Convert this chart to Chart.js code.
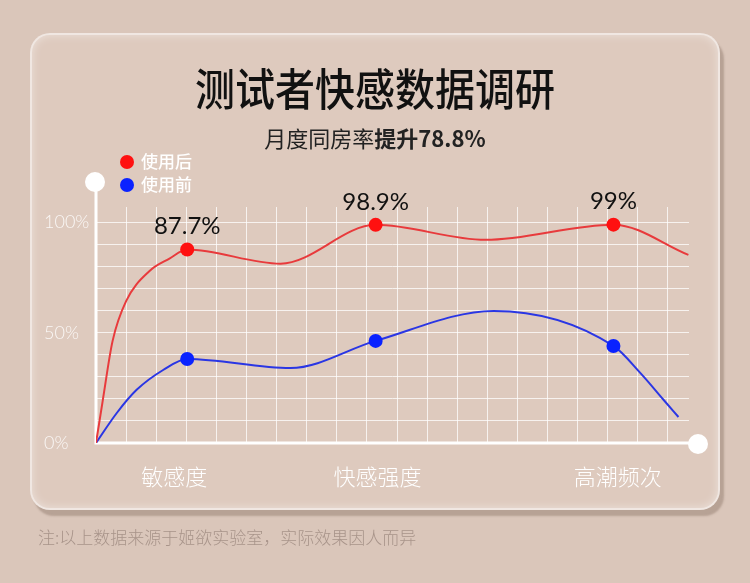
<!DOCTYPE html>
<html lang="zh">
<head>
<meta charset="utf-8">
<title>测试者快感数据调研</title>
<script src="https://cdn.jsdelivr.net/npm/chart.js@4.4.1/dist/chart.umd.min.js"></script>
<style>
  html, body { margin: 0; padding: 0; }
  body {
    width: 750px; height: 583px; overflow: hidden; position: relative;
    background: #dac6ba;
    font-family: 'Noto Sans CJK SC', 'Noto Sans', sans-serif;
  }
  .card {
    position: absolute; left: 30px; top: 33px; width: 690px; height: 477px;
    box-sizing: border-box; border-radius: 20px;
    background: #decabe;
    border: 2px solid rgba(255, 255, 255, 0.55);
    box-shadow: inset 0 0 10px rgba(255, 255, 255, 0.45), 4px 6px 2px rgba(140, 118, 105, 0.45);
  }
  #chart { position: absolute; left: 0; top: 0; }
  .title {
    position: absolute; left: 0; width: 750px; top: 67px; height: 40px;
    text-align: center; font-size: 40px; line-height: 40px; font-weight: 500;
    color: #111; transform: scaleY(1.12);
  }
  .subtitle {
    position: absolute; left: 0; width: 750px; top: 126px; height: 22px;
    text-align: center; font-size: 22px; line-height: 22px; color: #222;
  }
  .subtitle b { font-weight: 700; }
  .legend { position: absolute; left: 120px; top: 151px; }
  .legend div { height: 23px; line-height: 20px; font-size: 17px; color: #fff; font-weight: 500; }
  .legend span {
    display: inline-block; width: 14px; height: 14px; border-radius: 50%;
    margin-right: 7px; vertical-align: -1px;
  }
  .note {
    position: absolute; left: 38px; top: 527px; font-size: 17px; line-height: 20px;
    color: #a8948a; font-weight: 300;
  }
</style>
</head>
<body>
<div class="card"></div>
<canvas id="chart" width="750" height="583"></canvas>
<div class="title">测试者快感数据调研</div>
<div class="subtitle">月度同房率<b>提升78.8%</b></div>
<div class="legend" id="legend"></div>
<div class="note">注:以上数据来源于姬欲实验室，实际效果因人而异</div>

<script>
// categories and where they sit along the horizontal axis (grid units)
const categories = ['敏感度', '快感强度', '高潮频次'];
const categoryX = [3.03, 9.29, 17.19];
const categoryLabelX = [2.6, 9.35, 17.33];

// 使用后 (after) curve, dots at the categories
const afterX = [0, 0.22, 0.55, 1.0, 1.77, 2.44, 3.03, 6.13, 9.29, 12.94, 17.19, 19.68];
const afterY = [0, 18.9, 46.2, 64.3, 77.9, 83.6, 87.7, 81.3, 98.9, 92.1, 99, 85.3];

// 使用前 (before) curve
const beforeX = [0, 0.69, 1.35, 2.23, 3.03, 6.46, 9.29, 13.21, 17.19, 18.08, 18.86, 19.35];
const beforeY = [0, 13.6, 24.1, 33.1, 38.1, 34.0, 46.3, 59.9, 44.0, 31.8, 19.5, 11.8];

const seriesNames = ['使用后', '使用前'];
const yTicks = [0, 10, 20, 30, 40, 50, 60, 70, 80, 90, 100];
const xMax = 19.7;
const yMax = 107;

const gridColor = 'rgba(255, 255, 255, 0.75)';
const dotColors = ['#ff1010', '#0a22ff'];
const lineColors = ['#e83a3c', '#2a36e4'];

const toPoints = (xs, ys) => xs.map((x, i) => ({ x: x, y: ys[i] }));
const dotRadius = ctx => (ctx.raw && categoryX.includes(ctx.raw.x)) ? 7 : 0;

// white axis lines with the round caps at their ends
const axisLines = {
  id: 'axisLines',
  beforeDatasetsDraw(chart) {
    const { ctx, chartArea: a } = chart;
    ctx.save();
    ctx.strokeStyle = '#fff';
    ctx.fillStyle = '#fff';
    ctx.lineWidth = 3;
    ctx.beginPath();
    ctx.moveTo(a.left, a.top - 25);
    ctx.lineTo(a.left, a.bottom);
    ctx.lineTo(a.right + 9, a.bottom);
    ctx.stroke();
    ctx.beginPath();
    ctx.arc(a.left - 1, a.top - 25, 10, 0, Math.PI * 2);
    ctx.fill();
    ctx.beginPath();
    ctx.arc(a.right + 9, a.bottom + 1, 10, 0, Math.PI * 2);
    ctx.fill();
    ctx.restore();
  }
};

// percentage labels above the 使用后 dots
const valueLabels = {
  id: 'valueLabels',
  afterDatasetsDraw(chart) {
    const { ctx } = chart;
    const meta = chart.getDatasetMeta(0);
    ctx.save();
    ctx.font = '400 24px Lato, "Noto Sans", sans-serif';
    ctx.fillStyle = '#111';
    ctx.textAlign = 'center';
    ctx.textBaseline = 'middle';
    meta.data.forEach((p, i) => {
      if (!categoryX.includes(afterX[i])) return;
      ctx.fillText(afterY[i] + '%', p.x, p.y - 23);
    });
    ctx.restore();
  }
};

const chart = new Chart(document.getElementById('chart'), {
  type: 'line',
  data: {
    datasets: [{
      label: seriesNames[0],
      data: toPoints(afterX, afterY),
      borderColor: lineColors[0],
      borderWidth: 2,
      pointBackgroundColor: dotColors[0],
      pointBorderWidth: 0,
      pointRadius: dotRadius,
      cubicInterpolationMode: 'monotone',
      fill: false
    }, {
      label: seriesNames[1],
      data: toPoints(beforeX, beforeY),
      borderColor: lineColors[1],
      borderWidth: 2,
      pointBackgroundColor: dotColors[1],
      pointBorderWidth: 0,
      pointRadius: dotRadius,
      cubicInterpolationMode: 'monotone',
      fill: false
    }]
  },
  options: {
    responsive: false,
    animation: false,
    events: [],
    layout: { padding: { left: 44, right: 61, top: 207, bottom: 80 } },
    plugins: {
      legend: { display: false },
      title: { display: false },
      tooltip: { enabled: false }
    },
    scales: {
      x: {
        type: 'linear', min: 0, max: xMax,
        afterBuildTicks: axis => { axis.ticks = Array.from({ length: 20 }, (_, i) => ({ value: i })); },
        grid: { color: gridColor, lineWidth: 1, drawTicks: false },
        border: { display: false },
        ticks: { display: false },
        afterFit: axis => { axis.height = 0; axis.paddingLeft = 0; axis.paddingRight = 0; }
      },
      x2: {
        type: 'linear', position: 'bottom', min: 0, max: xMax,
        afterBuildTicks: axis => { axis.ticks = categoryLabelX.map(v => ({ value: v })); },
        grid: { display: false, drawTicks: false },
        border: { display: false },
        ticks: {
          autoSkip: false, maxRotation: 0, padding: 20,
          color: '#fff',
          font: { family: '"Noto Sans CJK SC", sans-serif', size: 22, weight: 300 },
          callback: (v, i) => categories[i]
        },
        afterFit: axis => { axis.height = 60; axis.paddingLeft = 0; axis.paddingRight = 0; }
      },
      y: {
        type: 'linear', min: 0, max: yMax,
        afterBuildTicks: axis => { axis.ticks = yTicks.map(v => ({ value: v })); },
        grid: { color: gridColor, lineWidth: 1, drawTicks: false },
        border: { display: false },
        ticks: {
          autoSkip: false, crossAlign: 'far', padding: 4,
          color: 'rgba(255, 255, 255, 0.85)',
          font: { family: 'Lato, "Noto Sans", sans-serif', size: 18, weight: 300 },
          callback: v => (v % 50 === 0 ? v + '%' : '')
        },
        afterFit: axis => { axis.width = 52; axis.paddingTop = 0; axis.paddingBottom = 0; }
      }
    }
  },
  plugins: [axisLines, valueLabels]
});

// legend built from the datasets
document.getElementById('legend').innerHTML = chart.data.datasets
  .map(ds => `<div><span style="background:${ds.pointBackgroundColor}"></span>${ds.label}</div>`)
  .join('');
</script>
</body>
</html>
